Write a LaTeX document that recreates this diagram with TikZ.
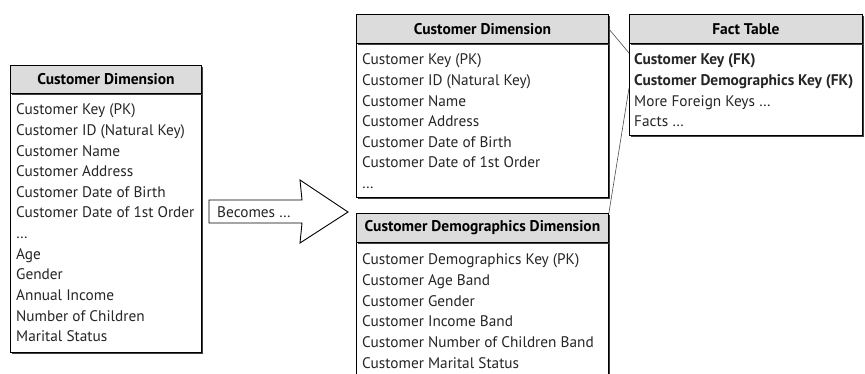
\documentclass[tikz,border=0pt]{standalone}
\usepackage{fontspec}
\setmainfont{PT Sans}
\usetikzlibrary{calc,shadows}
\definecolor{hdrgray}{HTML}{DCDCDC}
\begin{document}
\begin{tikzpicture}[x=1pt,y=-1pt,
  box/.style={draw=black, line width=0.9pt, anchor=north west, inner sep=0pt,
    drop shadow={shadow xshift=1.6pt, shadow yshift=-1.6pt, fill=black!75, opacity=1}},
  hdr/.style={box, fill=hdrgray, font=\fontsize{15.5}{18}\selectfont\bfseries},
  bodybox/.style={box, fill=white},
  row/.style={anchor=base west, inner sep=0pt, font=\fontsize{15.3}{18}\selectfont, text=black!85},
  brow/.style={row, font=\fontsize{15.4}{18}\selectfont\bfseries},
  link/.style={draw=black!70, line width=0.6pt}]
\useasboundingbox (0,0) rectangle (865,374);
\begin{scope}
\clip (0,0) rectangle (865,374);
% left table
\node[bodybox, minimum width=191pt, minimum height=259pt] (lb) at (10,93) {};
\node[hdr, minimum width=191pt, minimum height=28pt] (lh) at (10,65) {Customer Dimension};
\foreach [count=\i] \t in {Customer Key (PK), Customer ID (Natural Key), Customer Name, Customer Address, Customer Date of Birth, Customer Date of 1st Order, \dots, Age, Gender, Annual Income, Number of Children, Marital Status}
  \node[row] (lr\i) at (16,{115+(\i-1)*20.6}) {\t};
% middle top table
\node[bodybox, minimum width=252pt, minimum height=154pt] (mtb) at (356,43) {};
\node[hdr, minimum width=252pt, minimum height=29pt] (mth) at (356,14) {Customer Dimension};
\foreach [count=\i] \t in {Customer Key (PK), Customer ID (Natural Key), Customer Name, Customer Address, Customer Date of Birth, Customer Date of 1st Order, \dots}
  \node[row] (mtr\i) at (362,{65+(\i-1)*20.6}) {\t};
% middle bottom table
\node[bodybox, minimum width=252pt, minimum height=150pt] (mbb) at (356,242) {};
\node[hdr, minimum width=252pt, minimum height=29pt] (mbh) at (356,213) {Customer Demographics Dimension};
\foreach [count=\i] \t in {Customer Demographics Key (PK), Customer Age Band, Customer Gender, Customer Income Band, Customer Number of Children Band, Customer Marital Status}
  \node[row] (mbr\i) at (362,{265+(\i-1)*20.6}) {\t};
% fact table
\node[bodybox, minimum width=233pt, minimum height=92pt] (fb) at (629,43) {};
\node[hdr, minimum width=233pt, minimum height=29pt] (fh) at (629,14) {Fact Table};
\node[brow] (fr1) at (634,65) {Customer Key (FK)};
\node[brow] (fr2) at (634,85.6) {Customer Demographics Key (FK)};
\node[row] (fr3) at (634,106.2) {More Foreign Keys \dots};
\node[row] (fr4) at (634,126.8) {Facts \dots};
% connectors
\coordinate (f1) at ($(fb.north west)+(0,10)$);
\coordinate (f2) at ($(fb.north west)+(0,45)$);
\draw[link] (mth.east) -- (f1);
\draw[link] (mbh.north east) -- (f2);
% arrow
\draw[line width=0.9pt, fill=white, line join=miter]
  (209,200) -- (302,200) -- (300,180) -- (348,212) -- (300,243) -- (302,223) -- (209,223) -- cycle;
\node[row] (becomes) at (217,218) {Becomes \dots};
\end{scope}
\end{tikzpicture}
\end{document}
